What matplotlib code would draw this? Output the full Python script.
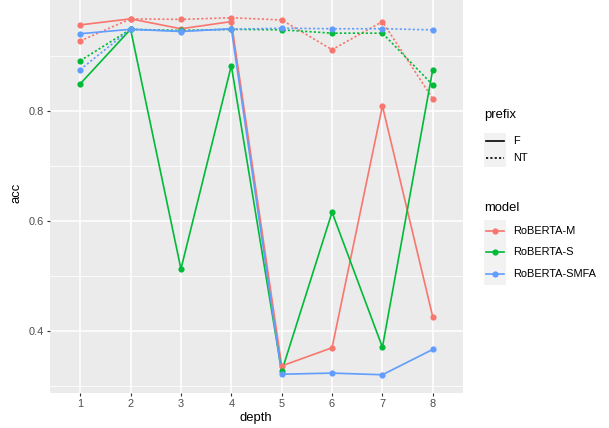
import numpy as np
import matplotlib.pyplot as plt
from matplotlib.patches import Rectangle
from matplotlib.lines import Line2D

plt.rcParams['font.family'] = ['Liberation Sans', 'DejaVu Sans']

depth = [1, 2, 3, 4, 5, 6, 7, 8]
models = ['RoBERTA-M', 'RoBERTA-S', 'RoBERTA-SMFA']
prefixes = ['F', 'NT']
colors = {'RoBERTA-M': '#F8766D', 'RoBERTA-S': '#00BA38', 'RoBERTA-SMFA': '#619CFF'}

acc_m_f = [0.956, 0.967, 0.949, 0.962, 0.337, 0.370, 0.809, 0.426]
acc_m_nt = [0.927, 0.967, 0.966, 0.969, 0.965, 0.911, 0.962, 0.822]
acc_s_f = [0.849, 0.948, 0.513, 0.882, 0.327, 0.616, 0.371, 0.875]
acc_s_nt = [0.891, 0.948, 0.946, 0.948, 0.947, 0.941, 0.941, 0.847]
acc_smfa_f = [0.940, 0.948, 0.944, 0.949, 0.322, 0.324, 0.321, 0.367]
acc_smfa_nt = [0.875, 0.948, 0.945, 0.948, 0.950, 0.949, 0.949, 0.947]

series = {
    ('RoBERTA-M', 'F'): acc_m_f,
    ('RoBERTA-M', 'NT'): acc_m_nt,
    ('RoBERTA-S', 'F'): acc_s_f,
    ('RoBERTA-S', 'NT'): acc_s_nt,
    ('RoBERTA-SMFA', 'F'): acc_smfa_f,
    ('RoBERTA-SMFA', 'NT'): acc_smfa_nt,
}
styles = {'F': '-', 'NT': (0, (1.3, 1.3))}

W, H = 609, 428
fig = plt.figure(figsize=(W / 100, H / 100), dpi=100)
fig.patch.set_facecolor('white')

# panel position in pixels
L, R, T, B = 50, 463, 0, 392.5
ax = fig.add_axes([L / W, 1 - B / H, (R - L) / W, (B - T) / H])
ax.set_facecolor('#EBEBEB')
for s in ax.spines.values():
    s.set_visible(False)

ax.set_xlim(0.4, 8.6)
ymin, ymax = 0.2888, 1.0012
ax.set_ylim(ymin, ymax)

for v in [0.3, 0.5, 0.7, 0.9]:
    ax.axhline(v, color='white', lw=0.55, zorder=0)
for v in [0.4, 0.6, 0.8]:
    ax.axhline(v, color='white', lw=1.1, zorder=0)
for d in depth:
    ax.axvline(d, color='white', lw=1.1, zorder=0)

for (m, p), vals in series.items():
    ax.plot(depth, vals, color=colors[m], linestyle=styles[p], lw=1.2, zorder=2)
    ax.scatter(depth, vals, color=colors[m], s=20, zorder=3, linewidths=0)

ax.set_xticks(depth)
ax.set_xticklabels([str(d) for d in depth])
ax.set_yticks([0.4, 0.6, 0.8])
ax.set_yticklabels(['0.4', '0.6', '0.8'])
ax.tick_params(axis='both', colors='#333333', labelcolor='#4D4D4D', labelsize=7.9,
               length=2.5, width=0.8, pad=2)

fig.text(256 / W, 1 - 418 / H, 'depth', ha='center', va='center', fontsize=9.4, color='black')
fig.text(16 / W, 1 - 193 / H, 'acc', ha='center', va='center', fontsize=9.4, rotation=90, color='black')

# legends drawn in pixel space
lg = fig.add_axes([0, 0, 1, 1])
lg.set_xlim(0, W)
lg.set_ylim(H, 0)
lg.axis('off')

kx0, kw, kh = 484, 21.5, 17.3
lg.text(484, 115, 'prefix', fontsize=9.4, va='center', ha='left')
for i, p in enumerate(prefixes):
    y0 = 132.5 + i * kh
    lg.add_patch(Rectangle((kx0, y0), kw, kh, color='#F2F2F2', lw=0))
    lg.add_line(Line2D([kx0 + 2, kx0 + kw - 2], [y0 + kh / 2] * 2, color='black',
                       linestyle=styles[p], lw=1.2))
    lg.text(513, y0 + kh / 2, p, fontsize=7.9, va='center', ha='left')

lg.text(484, 207.5, 'model', fontsize=9.4, va='center', ha='left')
for i, m in enumerate(models):
    y0 = 220 + i * 21.6
    lg.add_patch(Rectangle((kx0, y0), kw, 21.6, color='#F2F2F2', lw=0))
    lg.add_line(Line2D([kx0 + 2, kx0 + kw - 2], [y0 + 10.8] * 2, color=colors[m], lw=1.2))
    lg.scatter([kx0 + kw / 2], [y0 + 10.8], color=colors[m], s=20, linewidths=0)
    lg.text(513, y0 + 10.8, m, fontsize=7.9, va='center', ha='left')

fig.savefig('out.png', dpi=100)
